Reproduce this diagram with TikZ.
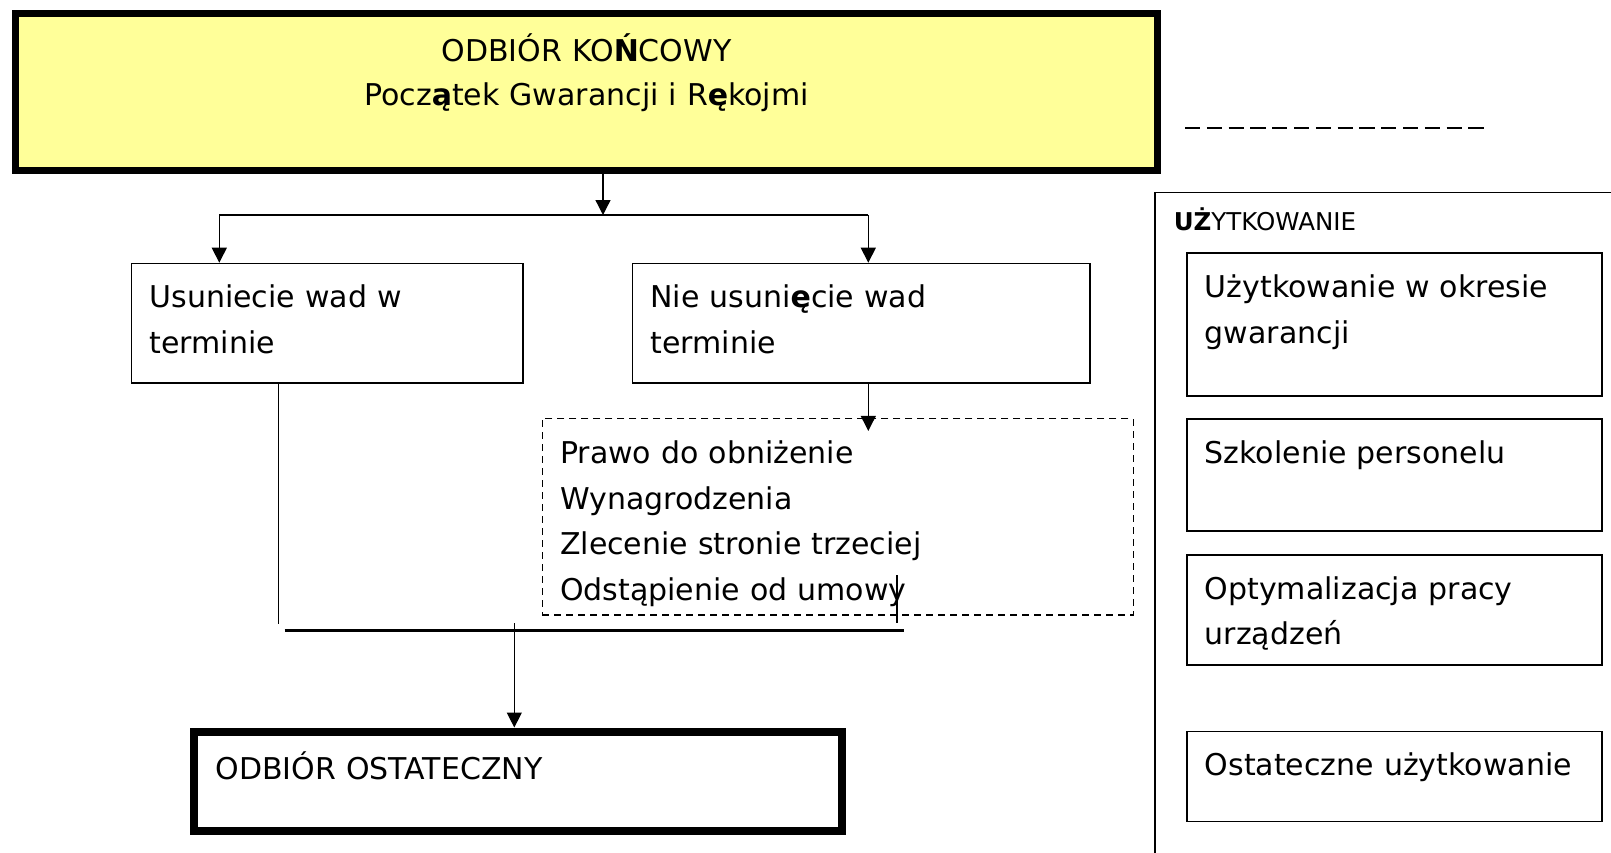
\documentclass[tikz,border=0pt]{standalone}
\usepackage{fontspec}
\setmainfont{DejaVu Sans}
\usetikzlibrary{arrows.meta}
\definecolor{zolty}{RGB}{255,255,153}
\tikzset{
    ramka/.style={draw, line width=0.8pt, anchor=north west, align=left,
        inner xsep=9pt, inner ysep=0pt,
        font=\fontsize{15pt}{22.75pt}\selectfont},
    strzalka/.style={line width=0.65pt, -{Triangle[length=7.5pt,width=7.5pt]}},
    linia/.style={line width=0.65pt}
}

\begin{document}
\begin{tikzpicture}[x=0.5pt,y=-0.5pt]
	\path[fill=white,use as bounding box] (0,0) rectangle (1611,852);

	% gora
	\node[ramka,line width=3.5pt,fill=zolty,align=center,inner xsep=5pt,
	    text width=561pt,text height=24.15pt,text depth=54.1pt,
	    font=\fontsize{15pt}{21.7pt}\selectfont] (koncowy) at (12,10)
	    {ODBIÓR KO\textbf{Ń}COWY\\Pocz\textbf{ą}tek Gwarancji i R\textbf{ę}kojmi};
	\draw[line width=1pt,dash pattern=on 7.6pt off 3.3pt] (1185,127.7) -- (1486.7,127.7);

	% dwie drogi
	\node[ramka,text width=177.8pt,text height=22pt,text depth=37.8pt] (usuniecie) at (130.7,262.7)
	    {Usuniecie wad w\\terminie};
	\node[ramka,text width=210.65pt,text height=22pt,text depth=37.8pt] (nieusuniecie) at (631.7,262.7)
	    {Nie usuni\textbf{ę}cie wad\\terminie};
	\node[ramka,line width=0.65pt,dash pattern=on 3.5pt off 2.5pt,text width=277.5pt,
	    text height=22.65pt,text depth=75.5pt] (uprawnienia) at (541.5,418)
	    {Prawo do obniżenie\\Wynagrodzenia\\Zlecenie stronie trzeciej\\Odstąpienie od umowy};
	\node[ramka,line width=4pt,inner xsep=11pt,text width=302.25pt,
	    text height=23.75pt,text depth=25.85pt] (ostateczny) at (189.5,727.5)
	    {ODBIÓR OSTATECZNY};

	% uzytkowanie
	\node[ramka,inner xsep=9.5pt,text width=254pt,text height=19.15pt,text depth=340pt,
	    font=\fontsize{12.25pt}{15pt}\selectfont] (uzytkowanie) at (1154,191.7)
	    {\textbf{UŻ}YTKOWANIE};
	\node[ramka,text width=189.5pt,text height=22.2pt,text depth=49.15pt] (okres) at (1186,252.3)
	    {Użytkowanie w okresie\\gwarancji};
	\node[ramka,text width=189.5pt,text height=22.2pt,text depth=33.65pt] (szkolenie) at (1186,418.3)
	    {Szkolenie personelu};
	\node[ramka,text width=189.5pt,text height=22.15pt,text depth=32.85pt] (optymalizacja) at (1186,554)
	    {Optymalizacja pracy\\urządzeń};
	\node[ramka,text width=189.5pt,text height=22.15pt,text depth=22.85pt] (ostateczne) at (1186,730.7)
	    {Ostateczne użytkowanie};

	% polaczenia
	\coordinate (rozgal) at (603,215);
	\coordinate (wA) at (219.3,215);
	\coordinate (wB) at (868.3,215);
	\draw[strzalka] (rozgal |- koncowy.south) -- (rozgal);
	\draw[linia] (wA) -- (wB);
	\draw[strzalka] (wA) -- (wA |- usuniecie.north);
	\draw[strzalka] (wB) -- (wB |- nieusuniecie.north);
	\draw[strzalka] (wB |- nieusuniecie.south) -- ++(0,47);

	\coordinate (zbiorL) at (284.7,630);
	\coordinate (zbiorP) at (904,630);
	\coordinate (wO) at (514.3,623.3);
	\draw[line width=1.5pt] (zbiorL) -- (zbiorP);
	\draw[linia] ([xshift=73.8pt]usuniecie.south west) -- ++(0,240.4);
	\draw[line width=0.8pt] (897,575) -- (897,623);
	\draw[strzalka] (wO) -- (wO |- ostateczny.north);

\end{tikzpicture}
\end{document}
